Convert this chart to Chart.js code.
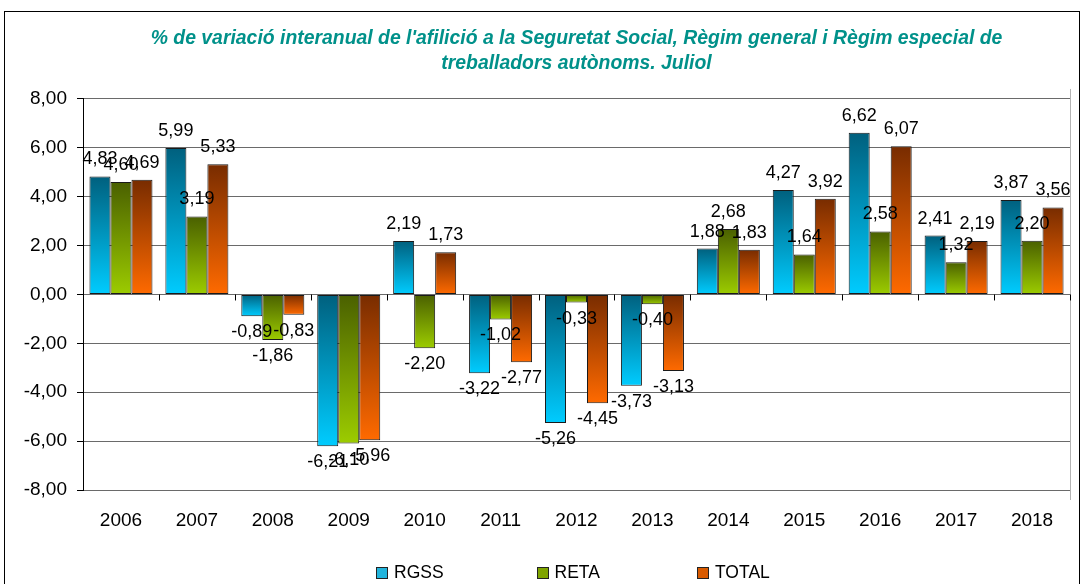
<!DOCTYPE html>
<html>
<head>
<meta charset="utf-8">
<script src="https://cdn.jsdelivr.net/npm/chart.js@4/dist/chart.umd.min.js"></script>
<style>
  html, body { margin: 0; padding: 0; background: #fff; width: 1086px; height: 584px; overflow: hidden; }
  #frame { position: absolute; left: 4px; top: 11px; width: 1076px; height: 640px; border: 1px solid #000; box-sizing: border-box; pointer-events: none; }
  #c { position: absolute; left: 0; top: 0; }
  #legend { position: absolute; left: 376px; top: 562px; display: flex; font-family: Arial, "Liberation Sans", sans-serif; font-size: 17.5px; color: #000; }
  #legend .item { width: 160.5px; display: flex; align-items: center; }
  #legend .box { width: 10px; height: 10px; border: 1px solid #222; margin-right: 6px; }
</style>
</head>
<body>
<canvas id="c" width="1086" height="584"></canvas>
<div id="frame"></div>
<div id="legend"></div>
<script>
const titleLines = ["% de variació interanual de l'afilició a la Seguretat Social, Règim general i Règim especial de", "treballadors autònoms. Juliol"];
const categories = ["2006","2007","2008","2009","2010","2011","2012","2013","2014","2015","2016","2017","2018"];
const seriesNames = ["RGSS","RETA","TOTAL"];
const rgss  = [4.83, 5.99, -0.89, -6.21, 2.19, -3.22, -5.26, -3.73, 1.88, 4.27, 6.62, 2.41, 3.87];
const reta  = [4.60, 3.19, -1.86, -6.10, -2.20, -1.02, -0.33, -0.40, 2.68, 1.64, 2.58, 1.32, 2.20];
const total = [4.69, 5.33, -0.83, -5.96, 1.73, -2.77, -4.45, -3.13, 1.83, 3.92, 6.07, 2.19, 3.56];
const yMin = -8, yMax = 8, yStep = 2;

const FONT = 'Arial, "Liberation Sans", sans-serif';
const gradStops = [
  ['#00607E', '#00CCFF'],
  ['#4A6000', '#9CCC00'],
  ['#782C00', '#FF6A00'],
];
const legendColors = ['#22B4DC', '#7FA400', '#D85A00'];

function fmt(v) { return v.toFixed(2).replace('.', ','); }

function barGradient(c, top, bottom) {
  const chart = c.chart;
  if (!chart.chartArea || c.type !== 'data') return bottom;
  const ys = chart.scales.y;
  const v = c.raw;
  const y1 = ys.getPixelForValue(Math.max(v, 0));
  const y2 = ys.getPixelForValue(Math.min(v, 0));
  if (!isFinite(y1) || !isFinite(y2) || y1 === y2) return bottom;
  const g = chart.ctx.createLinearGradient(0, y1, 0, y2);
  g.addColorStop(0, top);
  g.addColorStop(1, bottom);
  return g;
}

const valueLabels = {
  id: 'valueLabels',
  afterDatasetsDraw(chart) {
    const ctx = chart.ctx;
    ctx.save();
    ctx.font = '18px ' + FONT;
    ctx.fillStyle = '#000';
    ctx.textAlign = 'center';
    ctx.textBaseline = 'middle';
    chart.data.datasets.forEach((ds, i) => {
      const meta = chart.getDatasetMeta(i);
      meta.data.forEach((bar, j) => {
        const v = ds.data[j];
        const y = v >= 0 ? bar.y - 17 : bar.y + 16;
        ctx.fillText(fmt(v), bar.x, y);
      });
    });
    ctx.restore();
  }
};

const axisDecor = {
  id: 'axisDecor',
  afterDatasetsDraw(chart) {
    const xs = chart.scales.x, ys = chart.scales.y;
    const area = chart.chartArea;
    const y0 = ys.getPixelForValue(0);
    const n = chart.data.labels.length;
    const w = (xs.right - xs.left) / n;
    const ctx = chart.ctx;
    ctx.save();
    ctx.strokeStyle = '#b4b4b4';
    ctx.lineWidth = 1;
    ctx.beginPath();
    ctx.moveTo(Math.round(area.right) + 0.5, area.top - 10);
    ctx.lineTo(Math.round(area.right) + 0.5, area.bottom + 10);
    ctx.stroke();
    ctx.strokeStyle = '#000';
    ctx.beginPath();
    for (let i = 1; i <= n; i++) {
      const x = Math.round(xs.left + i * w) + 0.5;
      ctx.moveTo(x, y0);
      ctx.lineTo(x, y0 + 6);
    }
    ctx.stroke();
    ctx.restore();
  }
};

const seriesData = [rgss, reta, total];
const datasets = seriesNames.map((name, i) => ({
  label: name,
  data: seriesData[i],
  backgroundColor: (c) => barGradient(c, gradStops[i][0], gradStops[i][1]),
  borderColor: '#1a1a1a',
  borderWidth: 1,
  borderSkipped: false,
  categoryPercentage: 0.83,
  barPercentage: 1.0,
}));

new Chart(document.getElementById('c'), {
  type: 'bar',
  data: { labels: categories, datasets },
  options: {
    responsive: false,
    animation: false,
    layout: { padding: { left: 0, right: 16, top: 26, bottom: 44 } },
    plugins: {
      legend: { display: false },
      tooltip: { enabled: false },
      title: {
        display: true,
        fullSize: false,
        text: titleLines,
        color: '#00918A',
        font: { family: FONT, size: 19.4, style: 'italic', weight: 'bold', lineHeight: 1.28 },
        padding: { top: 0, bottom: 23.3 },
      },
    },
    scales: {
      x: {
        grid: { display: false, drawTicks: false },
        border: { display: false },
        ticks: { color: '#000', font: { family: FONT, size: 19 }, padding: 19, maxRotation: 0 },
        afterFit(s) { s.height = 50; },
      },
      y: {
        min: yMin, max: yMax,
        grid: { color: '#6a6a6a', lineWidth: 1, tickLength: 6, tickColor: '#000' },
        border: { display: true, color: '#000', width: 1 },
        ticks: { stepSize: yStep, color: '#000', font: { family: FONT, size: 19 }, padding: 10, callback: (v) => fmt(v) },
        afterFit(s) { s.width = 83; },
      },
    },
  },
  plugins: [valueLabels, axisDecor],
});

const legendEl = document.getElementById('legend');
seriesNames.forEach((name, i) => {
  const item = document.createElement('div');
  item.className = 'item';
  const box = document.createElement('span');
  box.className = 'box';
  box.style.background = legendColors[i];
  const txt = document.createElement('span');
  txt.textContent = name;
  item.appendChild(box);
  item.appendChild(txt);
  legendEl.appendChild(item);
});
</script>
</body>
</html>
